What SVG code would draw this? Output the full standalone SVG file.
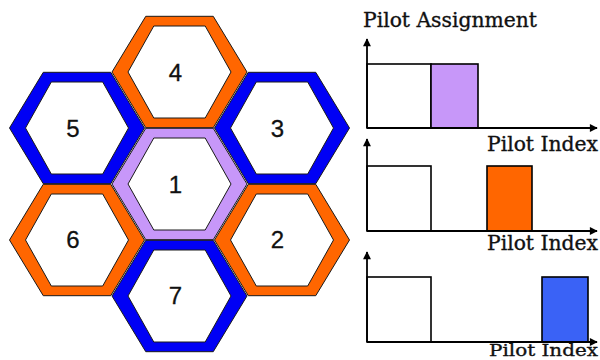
<svg xmlns="http://www.w3.org/2000/svg" xmlns:xlink="http://www.w3.org/1999/xlink" width="600" height="360" viewBox="0 0 600 360">
<style>
.ring{stroke:#1a1a1a;stroke-width:1;fill-rule:evenodd}
.orange{fill:#FF6600}
.blue{fill:#0000F5}
.lav{fill:#C797F9}
.num{font-family:"Liberation Sans",Arial,sans-serif;font-size:24px;fill:#111;text-anchor:middle;stroke:#111;stroke-width:0.3}
.axis{stroke:#000;stroke-width:1.8;fill:none}
.box{stroke:#000;stroke-width:1.6}
.lbl{font-family:"DejaVu Serif","Liberation Serif",serif;font-size:19.5px;fill:#111;stroke:#111;stroke-width:0.35}
</style>
<defs>
<path id="hex" d="M-67.5 0L-33.75 -55.7L33.75 -55.7L67.5 0L33.75 55.7L-33.75 55.7Z M-51.5 0L-25.7 -46L25.7 -46L51.5 0L25.7 46L-25.7 46Z"/>
<marker id="arr" viewBox="0 0 10 10" refX="9" refY="5" markerWidth="5" markerHeight="4.4" markerUnits="strokeWidth" orient="auto">
<path d="M0 0L10 5L0 10Z" fill="#000"/>
</marker>
</defs>
<g id="hex4"><use xlink:href="#hex" href="#hex" class="ring orange" transform="translate(179.5,72)"/><text class="num" x="175.5" y="80.5">4</text></g>
<g id="hex5"><use xlink:href="#hex" href="#hex" class="ring blue" transform="translate(77,128)"/><text class="num" x="73" y="136.5">5</text></g>
<g id="hex3"><use xlink:href="#hex" href="#hex" class="ring blue" transform="translate(282,128)"/><text class="num" x="277.5" y="136.5">3</text></g>
<g id="hex1"><use xlink:href="#hex" href="#hex" class="ring lav" transform="translate(179.5,184)"/><text class="num" x="175.5" y="192.5">1</text></g>
<g id="hex6"><use xlink:href="#hex" href="#hex" class="ring orange" transform="translate(77,240)"/><text class="num" x="73" y="248">6</text></g>
<g id="hex2"><use xlink:href="#hex" href="#hex" class="ring orange" transform="translate(282,240)"/><text class="num" x="277.5" y="248">2</text></g>
<g id="hex7"><use xlink:href="#hex" href="#hex" class="ring blue" transform="translate(179.5,296)"/><text class="num" x="175.5" y="304">7</text></g>
<g id="chart1">
<text class="lbl" x="363" y="27" textLength="174" lengthAdjust="spacingAndGlyphs">Pilot Assignment</text>
<rect class="box" x="367" y="64" width="64" height="64" fill="#fff"/>
<rect class="box" x="431" y="64" width="47" height="64" fill="#C797F9"/>
<path class="axis" d="M367 128V39" marker-end="url(#arr)"/>
<path class="axis" d="M367 128H597" marker-end="url(#arr)"/>
<text class="lbl" x="487" y="151" textLength="111" lengthAdjust="spacingAndGlyphs">Pilot Index</text>
</g>
<g id="chart2">
<rect class="box" x="367" y="166" width="64" height="65" fill="#fff"/>
<rect class="box" x="487" y="166" width="45" height="65" fill="#FF6600"/>
<path class="axis" d="M367 231V139" marker-end="url(#arr)"/>
<path class="axis" d="M367 231H597" marker-end="url(#arr)"/>
<text class="lbl" x="487" y="250" textLength="111" lengthAdjust="spacingAndGlyphs">Pilot Index</text>
</g>
<g id="chart3">
<rect class="box" x="367" y="277" width="64" height="65" fill="#fff"/>
<rect class="box" x="542" y="277" width="46" height="65" fill="#3A62F6"/>
<path class="axis" d="M367 342V252" marker-end="url(#arr)"/>
<path class="axis" d="M367 342H597" marker-end="url(#arr)"/>
<text class="lbl" x="489" y="355.5" style="font-size:17px" textLength="109" lengthAdjust="spacingAndGlyphs">Pilot Index</text>
</g>
</svg>
